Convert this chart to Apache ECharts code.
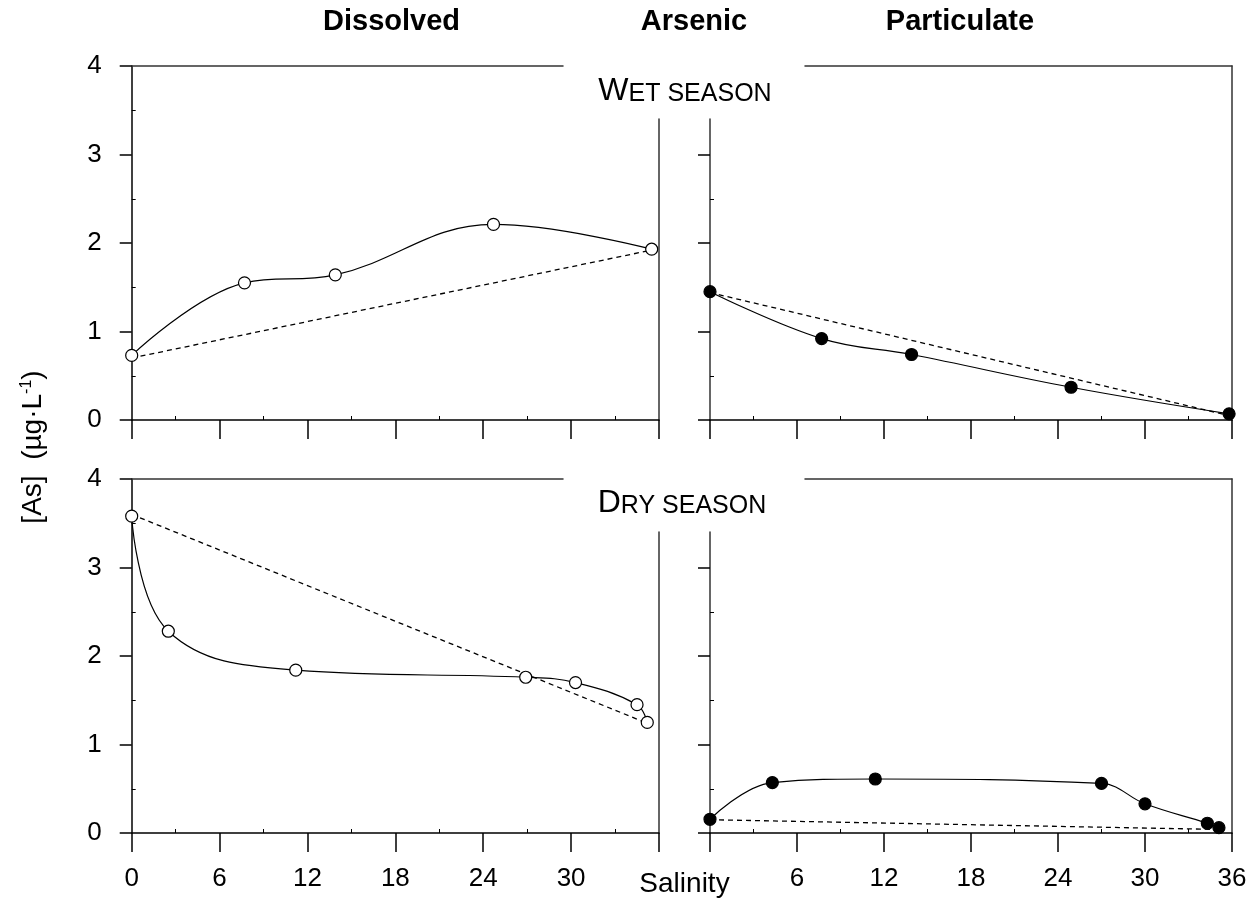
<!DOCTYPE html>
<html>
<head>
<meta charset="utf-8">
<title>Arsenic vs salinity</title>
<script src="https://cdn.jsdelivr.net/npm/echarts@6/dist/echarts.min.js"></script>
<style>
  html, body { margin: 0; padding: 0; background: #fff; }
  #chart { width: 1254px; height: 905px; }
</style>
</head>
<body>
<div id="chart"></div>
<script>
// four panels: dissolved / particulate arsenic against salinity, wet and dry season
(function () {
  // axis ticks
  var salinityTicks = [0, 6, 12, 18, 24, 30, 36];
  var asTicks = [0, 1, 2, 3, 4];
  var asMinorTicks = [0.5, 1.5, 2.5];

  // wet season, dissolved (open circles)
  var wetDissolvedS = [0, 7.7, 13.9, 24.7, 35.5];
  var wetDissolvedAs = [0.73, 1.55, 1.64, 2.21, 1.93];
  var wetDissolvedMixS = [0, 35.5];
  var wetDissolvedMixAs = [0.70, 1.92];

  // wet season, particulate (filled circles)
  var wetParticulateS = [0, 7.7, 13.9, 24.9, 35.8];
  var wetParticulateAs = [1.45, 0.92, 0.74, 0.37, 0.07];
  var wetParticulateMixS = [0, 35.8];
  var wetParticulateMixAs = [1.44, 0.05];

  // dry season, dissolved
  var dryDissolvedS = [0, 2.5, 11.2, 26.9, 30.3, 34.5, 35.2];
  var dryDissolvedAs = [3.58, 2.28, 1.84, 1.76, 1.70, 1.45, 1.25];
  var dryDissolvedMixS = [0, 35.2];
  var dryDissolvedMixAs = [3.60, 1.24];

  // dry season, particulate
  var dryParticulateS = [0, 4.3, 11.4, 27.0, 30.0, 34.3, 35.1];
  var dryParticulateAs = [0.155, 0.57, 0.61, 0.56, 0.33, 0.11, 0.06];
  var dryParticulateMixS = [0, 35.1];
  var dryParticulateMixAs = [0.15, 0.04];

  var headings = ["Dissolved", "Arsenic", "Particulate"];
  var seasons = [["W", "ET SEASON"], ["D", "RY SEASON"]];

  // layout (pixels)
  var FONT = '"Liberation Sans", Arial, Helvetica, sans-serif';
  var BLACK = "#000";
  var rowTops = [66, 479];
  var PANEL_H = 354;
  var LEFT_X = 131.7, LEFT_W = 527.3;
  var RIGHT_X = 710, RIGHT_W = 522;
  var GAP_TOP = 53;           // the inner frame lines start this far below the row top
  var LEFT_TOP_END = 563;     // top frame line of the left panel stops here
  var RIGHT_TOP_START = 805;  // top frame line of the right panel starts here

  var axisLineStyle = { color: BLACK, width: 1.5 };
  var frameLineStyle = { color: "#333", width: 1.5 };
  var minorStyle = { color: BLACK, width: 1 };

  var panels = [
    { row: 0, side: 0, s: wetDissolvedS, as: wetDissolvedAs, mixS: wetDissolvedMixS, mixAs: wetDissolvedMixAs, open: true },
    { row: 0, side: 1, s: wetParticulateS, as: wetParticulateAs, mixS: wetParticulateMixS, mixAs: wetParticulateMixAs, open: false },
    { row: 1, side: 0, s: dryDissolvedS, as: dryDissolvedAs, mixS: dryDissolvedMixS, mixAs: dryDissolvedMixAs, open: true },
    { row: 1, side: 1, s: dryParticulateS, as: dryParticulateAs, mixS: dryParticulateMixS, mixAs: dryParticulateMixAs, open: false }
  ];

  function pairs(xs, ys) {
    return xs.map(function (x, i) { return [x, ys[i]]; });
  }

  var grids = [], xAxes = [], yAxes = [], series = [];

  function addGrid(left, top, width, height) {
    grids.push({ left: left, top: top, width: width, height: height, containLabel: false, outerBoundsMode: "none" });
    return grids.length - 1;
  }
  function hiddenAxis(gridIndex) {
    return { gridIndex: gridIndex, type: "value", show: false };
  }
  function frameAxis(gridIndex, position) {
    return {
      gridIndex: gridIndex, type: "value", position: position,
      axisLine: { show: true, onZero: false, lineStyle: frameLineStyle },
      axisTick: { show: false }, axisLabel: { show: false }, splitLine: { show: false }
    };
  }
  function salinityAxis(gridIndex, showLabels, hideValue) {
    return {
      gridIndex: gridIndex, type: "value",
      min: salinityTicks[0], max: salinityTicks[salinityTicks.length - 1], interval: 6,
      axisLine: { show: true, onZero: false, lineStyle: axisLineStyle },
      axisTick: { show: true, length: 19, lineStyle: axisLineStyle },
      minorTick: { show: true, splitNumber: 2, length: -4, lineStyle: minorStyle },
      splitLine: { show: false },
      axisLabel: {
        show: showLabels, margin: 33, fontSize: 26, color: BLACK, fontFamily: FONT,
        formatter: function (v) { return v === hideValue ? "" : String(v); }
      }
    };
  }

  var panelAxes = {};

  rowTops.forEach(function (top, r) {
    var gL = addGrid(LEFT_X, top, LEFT_W, PANEL_H);
    var gR = addGrid(RIGHT_X, top, RIGHT_W, PANEL_H);
    var gLT = addGrid(LEFT_X, top, LEFT_TOP_END - LEFT_X, PANEL_H);
    var gRT = addGrid(RIGHT_TOP_START, top, RIGHT_X + RIGHT_W - RIGHT_TOP_START, PANEL_H);
    var gM = addGrid(LEFT_X + LEFT_W, top + GAP_TOP, RIGHT_X - LEFT_X - LEFT_W, PANEL_H - GAP_TOP);

    // left data panel
    xAxes.push(salinityAxis(gL, r === 1, 36));
    yAxes.push({
      gridIndex: gL, type: "value", min: asTicks[0], max: asTicks[asTicks.length - 1], interval: 1,
      axisLine: { show: true, onZero: false, lineStyle: axisLineStyle },
      axisTick: { show: true, length: 12, lineStyle: axisLineStyle },
      minorTick: { show: true, splitNumber: 2, length: -4, lineStyle: minorStyle },
      splitLine: { show: false },
      axisLabel: { show: true, margin: 30, fontSize: 26, color: BLACK, fontFamily: FONT }
    });
    panelAxes[r + "-0"] = { x: xAxes.length - 1, y: yAxes.length - 1 };

    // right data panel (its y axis line is drawn by the gap grid, so only ticks here)
    xAxes.push(salinityAxis(gR, r === 1, 0));
    yAxes.push({
      gridIndex: gR, type: "value", min: asTicks[0], max: asTicks[asTicks.length - 1], interval: 1,
      axisLine: { show: false },
      axisTick: { show: true, length: 12, lineStyle: axisLineStyle, customValues: asTicks.slice(0, 4) },
      splitLine: { show: false }, axisLabel: { show: false }
    });
    panelAxes[r + "-1"] = { x: xAxes.length - 1, y: yAxes.length - 1 };
    yAxes.push({
      gridIndex: gR, type: "value", position: "left", min: 0, max: 4,
      axisLine: { show: false },
      axisTick: { show: true, inside: true, length: 4, lineStyle: minorStyle, customValues: asMinorTicks },
      splitLine: { show: false }, axisLabel: { show: false }
    });

    // frame pieces
    xAxes.push(frameAxis(gLT, "top"));
    yAxes.push(hiddenAxis(gLT));
    xAxes.push(frameAxis(gRT, "top"));
    yAxes.push(frameAxis(gRT, "right"));
    xAxes.push(hiddenAxis(gM));
    yAxes.push(frameAxis(gM, "left"));
    yAxes.push(frameAxis(gM, "right"));
  });

  panels.forEach(function (p) {
    var ax = panelAxes[p.row + "-" + p.side];
    series.push({
      type: "line", xAxisIndex: ax.x, yAxisIndex: ax.y,
      data: pairs(p.mixS, p.mixAs),
      symbol: "none", silent: true, z: 2,
      lineStyle: { color: BLACK, width: 1.3, type: [5, 4] }
    });
    series.push({
      type: "line", xAxisIndex: ax.x, yAxisIndex: ax.y,
      data: pairs(p.s, p.as),
      smooth: 0.4, symbol: "circle", symbolSize: 12, z: 3,
      lineStyle: { color: BLACK, width: 1.2 },
      itemStyle: { color: p.open ? "#fff" : BLACK, borderColor: BLACK, borderWidth: 1.2, opacity: 1 }
    });
  });

  var headingX = [391.5, 694, 960];
  var graphics = headings.map(function (h, i) {
    return {
      type: "text", x: headingX[i], y: 22,
      style: { text: h, font: "bold 29px " + FONT, fill: BLACK, align: "center", verticalAlign: "middle" }
    };
  });

  var seasonPos = [[685, 91], [682, 503]];
  seasons.forEach(function (s, i) {
    graphics.push({
      type: "text", x: seasonPos[i][0], y: seasonPos[i][1],
      style: {
        text: "{big|" + s[0] + "}{small|" + s[1] + "}",
        align: "center", verticalAlign: "middle", fill: BLACK,
        rich: {
          big: { fontSize: 32, fontFamily: FONT, fill: BLACK, verticalAlign: "bottom" },
          small: { fontSize: 25, fontFamily: FONT, fill: BLACK, verticalAlign: "bottom" }
        }
      }
    });
  });

  graphics.push({
    type: "text", x: 684.5, y: 884,
    style: { text: "Salinity", font: "28px " + FONT, fill: BLACK, align: "center", verticalAlign: "middle" }
  });

  graphics.push({
    type: "text", x: 33, y: 447, rotation: Math.PI / 2,
    style: {
      text: "{t|[As]  (µg·L}{sup|-1}{t|)}",
      align: "center", verticalAlign: "middle", fill: BLACK,
      rich: {
        t: { fontSize: 28, fontFamily: FONT, fill: BLACK },
        sup: { fontSize: 16, fontFamily: FONT, fill: BLACK, verticalAlign: "top" }
      }
    }
  });

  var myChart = echarts.init(document.getElementById("chart"));
  myChart.setOption({
    animation: false,
    backgroundColor: "#fff",
    grid: grids,
    xAxis: xAxes,
    yAxis: yAxes,
    series: series,
    graphic: graphics
  });
})();
</script>
</body>
</html>
